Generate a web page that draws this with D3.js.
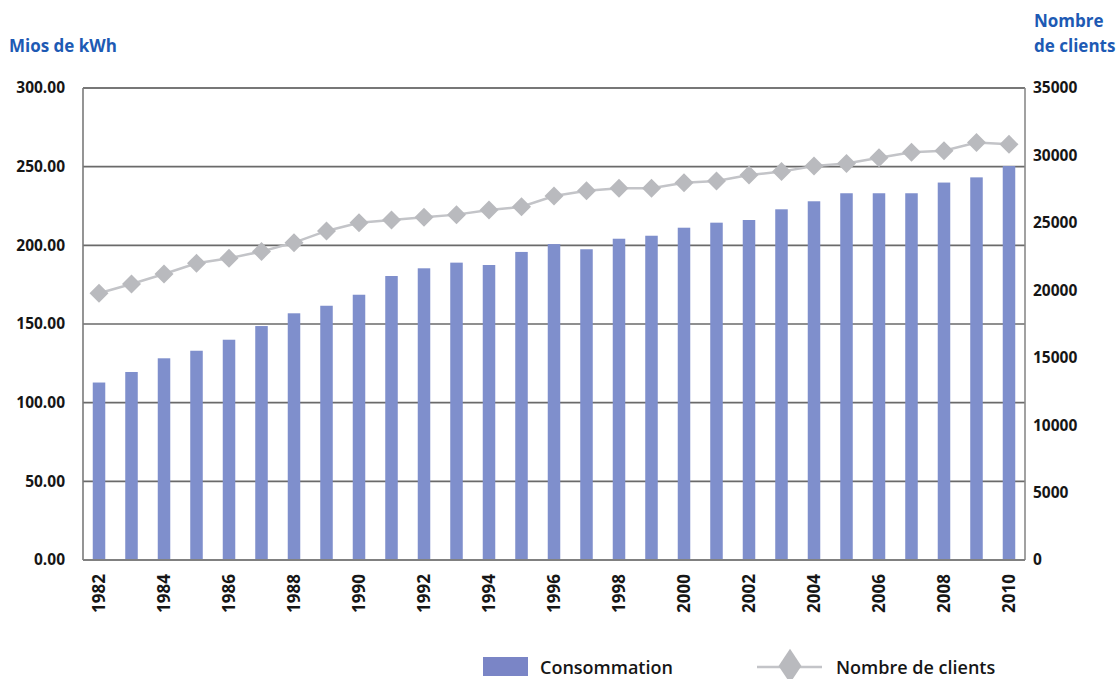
<!DOCTYPE html>
<html>
<head>
<meta charset="utf-8">
<script src="https://cdn.jsdelivr.net/npm/d3@7"></script>
<style>
  html, body { margin: 0; padding: 0; background: #fff; }
  svg { display: block; font-family: "Open Sans", "Noto Sans", sans-serif; }
</style>
</head>
<body>
<svg id="chart" width="1118" height="679"></svg>
<script>
const years = [1982,1983,1984,1985,1986,1987,1988,1989,1990,1991,1992,1993,1994,1995,1996,1997,1998,1999,2000,2001,2002,2003,2004,2005,2006,2007,2008,2009,2010];
const consommation = [112.8,119.5,128.2,133.0,140.0,148.7,156.8,161.6,168.6,180.5,185.4,189.0,187.5,195.8,200.8,197.5,204.2,206.1,211.2,214.4,216.1,222.9,228.0,233.1,233.1,233.1,239.9,243.2,250.4];
const clients = [19780,20470,21210,22000,22370,22880,23530,24400,25000,25210,25410,25610,25950,26190,26990,27380,27560,27560,27980,28100,28550,28800,29220,29410,29830,30230,30350,30950,30820];
const leftTicks = [0,50,100,150,200,250,300];
const rightTicks = [0,5000,10000,15000,20000,25000,30000,35000];
const xTickYears = [1982,1984,1986,1988,1990,1992,1994,1996,1998,2000,2002,2004,2006,2008,2010];
const leftTitle = "Mios de kWh";
const rightTitle = ["Nombre", "de clients"];
const legendLabels = ["Consommation", "Nombre de clients"];

const svg = d3.select("#chart");
const L = 83, R = 1025, T = 88, B = 560;
const blue = "#1d5ab4", txt = "#161616";
const barColor = "#7f8fcc", lineColor = "#c3c4c8", markerColor = "#b9babe";

const x = d3.scaleBand().domain(years).range([L, R]).paddingInner(0.615).paddingOuter(0.3);
const yL = d3.scaleLinear().domain([0, 300]).range([B, T]);
const yR = d3.scaleLinear().domain([0, 35000]).range([B, T]);

// gridlines
svg.append("g").selectAll("line").data(leftTicks.filter(d => d > 0)).join("line")
  .attr("x1", L).attr("x2", R).attr("y1", d => yL(d)).attr("y2", d => yL(d))
  .attr("stroke", d => d === 300 ? "#4a4a4a" : "#6a6a6a").attr("stroke-width", 1.6);

// frame
svg.append("line").attr("x1", L).attr("x2", L).attr("y1", T).attr("y2", B).attr("stroke", "#7a7a7a").attr("stroke-width", 1.6);
svg.append("line").attr("x1", R).attr("x2", R).attr("y1", T).attr("y2", B).attr("stroke", "#8a8a8a").attr("stroke-width", 1.6);

// bars
svg.append("g").selectAll("rect").data(years).join("rect")
  .attr("x", d => x(d)).attr("width", x.bandwidth())
  .attr("y", (d, i) => yL(consommation[i]))
  .attr("height", (d, i) => B - yL(consommation[i]))
  .attr("fill", barColor);

// bottom axis line
svg.append("line").attr("x1", L).attr("x2", R).attr("y1", B).attr("y2", B).attr("stroke", "#808080").attr("stroke-width", 2);

// clients line
const cx = d => x(d) + x.bandwidth() / 2;
const line = d3.line().x((d, i) => cx(years[i])).y(d => yR(d));
svg.append("path").datum(clients).attr("d", line)
  .attr("fill", "none").attr("stroke", lineColor).attr("stroke-width", 2.5);
const diamond = d3.symbol().type(d3.symbolDiamond2).size(230);
svg.append("g").selectAll("path").data(clients).join("path")
  .attr("d", diamond)
  .attr("transform", (d, i) => `translate(${cx(years[i])},${yR(d)})`)
  .attr("fill", markerColor);

// left axis
const axL = d3.axisLeft(yL).tickValues(leftTicks).tickFormat(d3.format(".2f")).tickSize(0).tickPadding(0);
const gL = svg.append("g").attr("transform", `translate(65,0)`).call(axL);
gL.select(".domain").remove();
gL.selectAll("text").attr("font-size", 15.5).attr("font-weight", 700).attr("fill", txt)
  .attr("font-family", "'Open Sans', sans-serif");

// right axis
const axR = d3.axisRight(yR).tickValues(rightTicks).tickFormat(d3.format("d")).tickSize(0).tickPadding(0);
const gR = svg.append("g").attr("transform", `translate(1033,0)`).call(axR);
gR.select(".domain").remove();
gR.selectAll("text").attr("font-size", 15.5).attr("font-weight", 700).attr("fill", txt)
  .attr("font-family", "'Open Sans', sans-serif");

// bottom axis
const axB = d3.axisBottom(x).tickValues(xTickYears).tickSize(0).tickPadding(0);
const gB = svg.append("g").attr("transform", `translate(0,574)`).call(axB);
gB.select(".domain").remove();
gB.selectAll("text")
  .attr("transform", "rotate(-90)")
  .attr("text-anchor", "end")
  .attr("x", 0).attr("y", 0).attr("dy", "0.35em")
  .attr("font-size", 17).attr("font-weight", 700).attr("fill", txt)
  .attr("font-family", "'Open Sans', sans-serif");

// axis titles
svg.append("text").attr("x", 9).attr("y", 52).text(leftTitle)
  .attr("font-size", 17).attr("font-weight", 700).attr("fill", blue);
svg.append("text").attr("x", 1034).attr("y", 27).text(rightTitle[0])
  .attr("font-size", 17).attr("font-weight", 700).attr("fill", blue);
svg.append("text").attr("x", 1034).attr("y", 52).text(rightTitle[1])
  .attr("font-size", 17).attr("font-weight", 700).attr("fill", blue);

// legend
const lg = svg.append("g");
lg.append("rect").attr("x", 483).attr("y", 657).attr("width", 45).attr("height", 19).attr("fill", "#7a85c6");
lg.append("text").attr("x", 540).attr("y", 674).text(legendLabels[0])
  .attr("font-size", 18).attr("font-weight", 600).attr("fill", txt);
lg.append("line").attr("x1", 757).attr("x2", 822).attr("y1", 667).attr("y2", 667)
  .attr("stroke", lineColor).attr("stroke-width", 2.5);
lg.append("path").attr("d", d3.symbol().type(d3.symbolDiamond2).size(520))
  .attr("transform", "translate(790,666) scale(0.8,1.2)").attr("fill", markerColor);
lg.append("text").attr("x", 836).attr("y", 674).text(legendLabels[1])
  .attr("font-size", 18).attr("font-weight", 600).attr("fill", txt);
</script>
</body>
</html>
